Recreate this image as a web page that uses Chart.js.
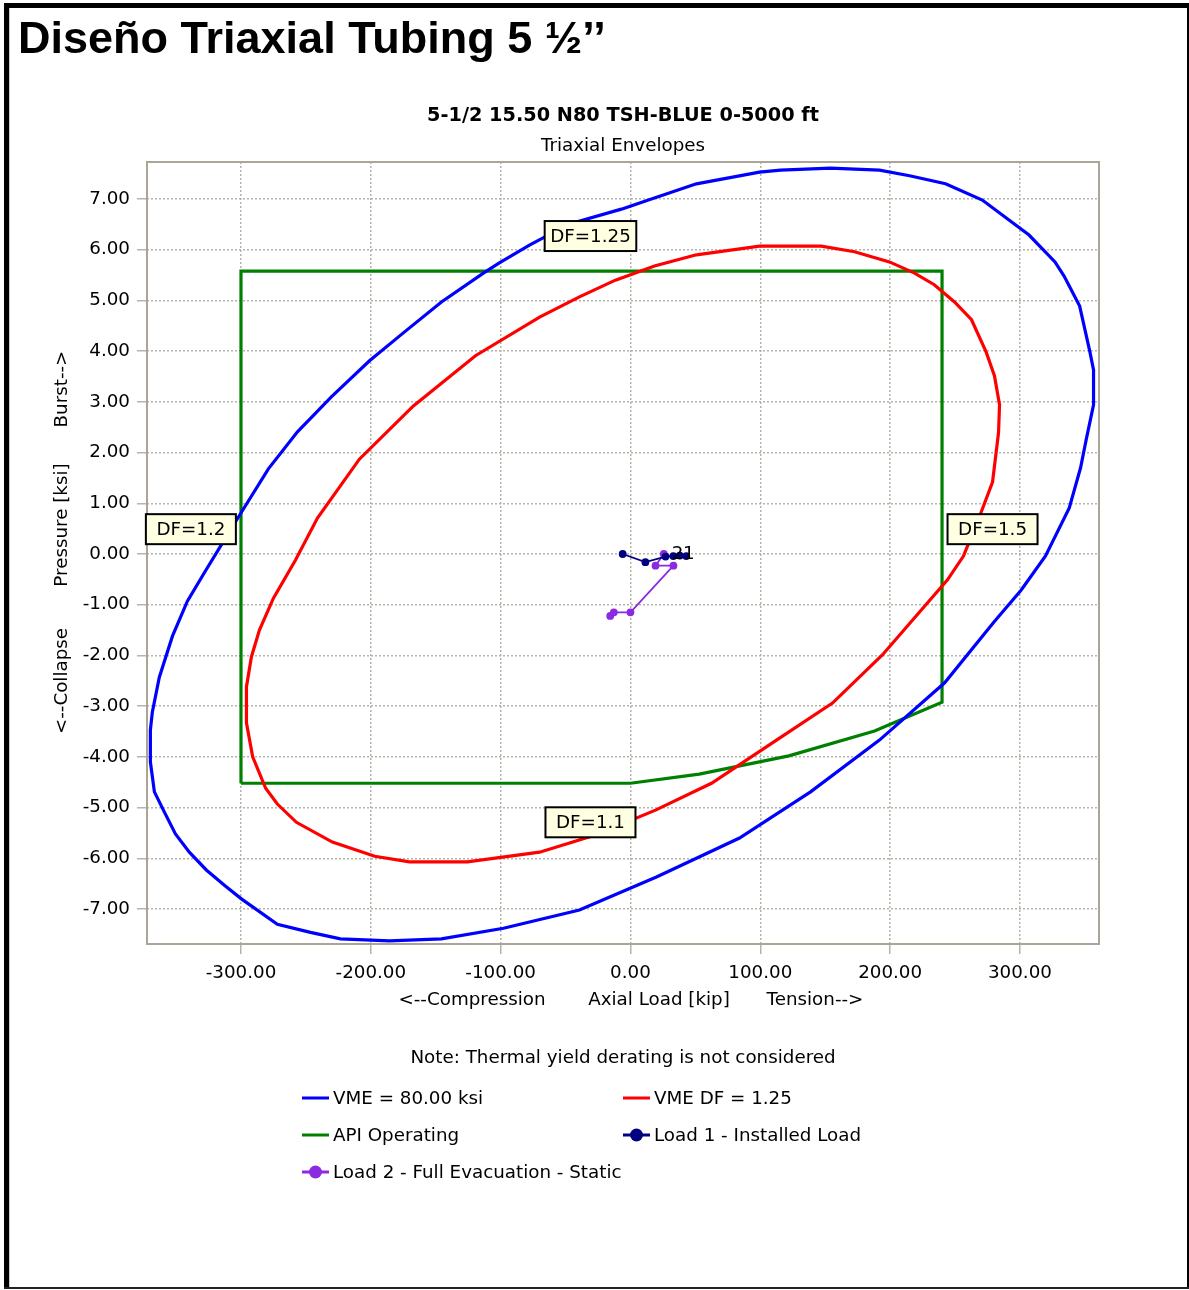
<!DOCTYPE html>
<html><head><meta charset="utf-8">
<script src="https://cdn.jsdelivr.net/npm/chart.js@4/dist/chart.umd.min.js"></script>
<style>html,body{margin:0;padding:0;background:#fff;}canvas{display:block;}</style>
</head><body>
<canvas id="c" width="1189" height="1290"></canvas>
<script>
// ---------- DATA ----------
const vmeEnvelope = [[-7,6.80],[11.6,6.96],[50.8,7.30],[99.4,7.53],[115.6,7.57],[154,7.61],[191.8,7.57],[215,7.46],[242.7,7.30],[271,6.98],[307,6.29],[327,5.76],[334,5.48],[346,4.89],[353.6,4.02],[356.7,3.63],[356.7,2.94],[351,2.25],[346.7,1.70],[338,0.91],[319.7,-0.04],[301,-0.71],[280,-1.34],[242,-2.54],[191.8,-3.67],[138.7,-4.69],[84,-5.60],[50.8,-6.00],[20,-6.37],[-39.3,-7.02],[-97.8,-7.38],[-145.6,-7.59],[-185.7,-7.63],[-223.4,-7.59],[-246.5,-7.46],[-272,-7.30],[-299.7,-6.80],[-312.8,-6.53],[-326.7,-6.23],[-339.8,-5.88],[-350.5,-5.52],[-359,-5.09],[-366.7,-4.69],[-369.8,-4.10],[-369.8,-3.47],[-368.3,-3.12],[-362.9,-2.43],[-352.8,-1.62],[-341.3,-0.93],[-328,-0.36],[-312.8,0.28],[-301,0.77],[-278.9,1.68],[-256.5,2.41],[-230.4,3.10],[-201,3.81],[-174,4.38],[-145.6,4.97],[-113.3,5.54],[-101,5.74],[-77.8,6.09],[-47,6.51],[-7,6.80]];
const vmeDfEnvelope = [[50.8,5.90],[99.4,6.07],[147,6.07],[172.6,5.96],[199.5,5.76],[218.8,5.54],[234,5.31],[249.6,4.97],[262.7,4.62],[274,3.98],[280.4,3.51],[284.3,2.94],[283.5,2.39],[278.9,1.42],[269.6,0.79],[256.5,-0.04],[244.2,-0.51],[194,-1.99],[155.6,-2.94],[114.8,-3.63],[62.4,-4.52],[19.3,-5.05],[-27,-5.54],[-70,-5.88],[-125.6,-6.07],[-170.3,-6.07],[-197,-5.96],[-229.6,-5.68],[-257.3,-5.29],[-272,-4.93],[-281,-4.62],[-291,-4.00],[-295.8,-3.33],[-295.8,-2.62],[-292,-2.03],[-285.8,-1.50],[-275,-0.87],[-258,-0.12],[-241.1,0.71],[-208.8,1.87],[-167.2,2.92],[-119.4,3.91],[-70,4.67],[-39.3,5.07],[-11.6,5.40],[18.5,5.68],[50.8,5.90]];
const apiOperating = [[-300,-4.52],[-300,5.58],[240,5.58],[240,-2.92],[188,-3.49],[122,-3.98],[53,-4.34],[0,-4.52],[-300,-4.52]];
const load1 = [[-6,0],[11.5,-0.16],[27,-0.05],[33,-0.04],[38,-0.03],[43,-0.04]];
const load2 = [[25.7,0],[19.3,-0.23],[33.1,-0.23],[0,-1.15],[-12.8,-1.15],[-15.6,-1.22]];
const seriesLabels = ['VME = 80.00 ksi','VME DF = 1.25','API Operating','Load 1 - Installed Load','Load 2 - Full Evacuation - Static'];
const xTicks = [-300,-200,-100,0,100,200,300];
const yTicks = [-7,-6,-5,-4,-3,-2,-1,0,1,2,3,4,5,6,7];
const dfLabels = ['DF=1.25','DF=1.1','DF=1.2','DF=1.5'];
const dfAnchors = [[-30.8,6.27],[-30.8,-5.29],[-338.6,0.49],[278.9,0.49]];
const loadTags = ['2','1'];
const loadTagAnchors = [[36.2,0],[45.0,0]];

// ---------- STYLE ----------
const FONT = '"DejaVu Sans", Verdana, sans-serif';
const FS = 18.3;
const colors = ['#0000ff','#ff0000','#008000','#000080','#8a2be2'];
const toXY = a => a.map(p => ({x:p[0], y:p[1]}));
const seriesData = [vmeEnvelope, vmeDfEnvelope, apiOperating, load1, load2];

const datasets = seriesData.map((d,i) => ({
  label: seriesLabels[i],
  data: toXY(d),
  showLine: true,
  borderColor: colors[i],
  backgroundColor: colors[i],
  borderWidth: i < 3 ? 3.2 : 1.8,
  pointRadius: i < 3 ? 0 : 3,
  pointHoverRadius: 0,
  tension: 0,
  fill: false
}));

const decor = {
  id: 'decor',
  afterDatasetsDraw(chart) {
    const ctx = chart.ctx, xs = chart.scales.x, ys = chart.scales.y, a = chart.chartArea;
    ctx.save();
    ctx.strokeStyle = '#aaa596'; ctx.lineWidth = 2;
    ctx.strokeRect(a.left, a.top, a.right - a.left, a.bottom - a.top);
    ctx.fillStyle = '#000'; ctx.font = FS + 'px ' + FONT;
    ctx.textAlign = 'center'; ctx.textBaseline = 'middle';
    loadTags.forEach((t,i) => ctx.fillText(t, xs.getPixelForValue(loadTagAnchors[i][0]), ys.getPixelForValue(loadTagAnchors[i][1])));
    dfLabels.forEach((t,i) => {
      const cx = xs.getPixelForValue(dfAnchors[i][0]), cy = ys.getPixelForValue(dfAnchors[i][1]);
      const w = Math.max(ctx.measureText(t).width + 11, 90), h = 30;
      ctx.fillStyle = '#ffffe1';
      ctx.fillRect(cx - w/2, cy - h/2, w, h);
      ctx.strokeStyle = '#000'; ctx.lineWidth = 2;
      ctx.strokeRect(cx - w/2, cy - h/2, w, h);
      ctx.fillStyle = '#000';
      ctx.fillText(t, cx, cy + 1);
    });
    ctx.restore();
  },
  afterDraw(chart) {
    const ctx = chart.ctx, a = chart.chartArea;
    const cx = (a.left + a.right) / 2;
    ctx.save();
    ctx.fillStyle = '#000';
    ctx.fillRect(4, 3, 1185, 5);
    ctx.fillRect(4, 3, 5, 1286);
    ctx.fillRect(1187, 3, 2, 1286);
    ctx.fillStyle = '#222';
    ctx.fillRect(4, 1287, 1185, 2);
    ctx.fillStyle = '#c8c8c8';
    ctx.fillRect(9, 8, 1, 1279);
    ctx.fillStyle = '#000';
    ctx.font = 'bold 45px "Liberation Sans", Arial, sans-serif';
    ctx.textAlign = 'left'; ctx.textBaseline = 'alphabetic';
    ctx.fillText('Diseño Triaxial Tubing 5 ½’’', 18, 53);
    ctx.textAlign = 'center'; ctx.textBaseline = 'middle';
    ctx.font = 'bold 19.3px ' + FONT;
    ctx.fillText('5-1/2 15.50 N80 TSH-BLUE 0-5000 ft', cx, 116);
    ctx.font = FS + 'px ' + FONT;
    ctx.fillText('Triaxial Envelopes', cx, 146);
    ctx.fillText('<--Compression', 472, 1000);
    ctx.fillText('Axial Load [kip]', 659, 1000);
    ctx.fillText('Tension-->', 815, 1000);
    [['<--Collapse',681],['Pressure [ksi]',525],['Burst-->',389]].forEach(([t,y]) => {
      ctx.save(); ctx.translate(62, y); ctx.rotate(-Math.PI/2);
      ctx.fillText(t, 0, 0); ctx.restore();
    });
    ctx.fillText('Note: Thermal yield derating is not considered', cx, 1058);
    const colX = [302, 623], rowY = [1098, 1135, 1172];
    ctx.textAlign = 'left';
    chart.data.datasets.forEach((ds, i) => {
      const x = colX[i % 2], y = rowY[Math.floor(i / 2)];
      ctx.strokeStyle = ds.borderColor; ctx.lineWidth = 3;
      ctx.beginPath(); ctx.moveTo(x, y); ctx.lineTo(x + 27, y); ctx.stroke();
      if (ds.pointRadius > 0) {
        ctx.fillStyle = ds.backgroundColor;
        ctx.beginPath(); ctx.arc(x + 13.5, y, 6.5, 0, Math.PI * 2); ctx.fill();
      }
      ctx.fillStyle = '#000';
      ctx.fillText(ds.label, x + 31, y + 1);
    });
    ctx.restore();
  }
};

new Chart(document.getElementById('c'), {
  type: 'scatter',
  data: { datasets },
  plugins: [decor],
  options: {
    responsive: false,
    devicePixelRatio: 1,
    animation: false,
    events: [],
    layout: { padding: { left: 47, top: 162, right: 90, bottom: 266 } },
    plugins: { legend: { display: false }, tooltip: { enabled: false }, title: { display: false } },
    scales: {
      x: {
        type: 'linear', min: -372.4, max: 360.9,
        afterBuildTicks: s => { s.ticks = xTicks.map(v => ({ value: v })); },
        afterFit: s => { s.height = 80; },
        ticks: { color: '#000', font: { family: FONT, size: FS }, padding: 8, maxRotation: 0, autoSkip: false,
                 callback: v => Number(v).toFixed(2) },
        grid: { color: '#b4b4aa', lineWidth: 1.5, tickLength: 10, drawOnChartArea: true },
        border: { display: false, dash: [2, 2] }
      },
      y: {
        type: 'linear', min: -7.69, max: 7.73,
        afterBuildTicks: s => { s.ticks = yTicks.map(v => ({ value: v })); },
        afterFit: s => { s.width = 100; },
        ticks: { color: '#000', font: { family: FONT, size: FS }, padding: 7, autoSkip: false,
                 callback: v => Number(v).toFixed(2) },
        grid: { color: '#b4b4aa', lineWidth: 1.5, tickLength: 10 },
        border: { display: false, dash: [2, 2] }
      }
    }
  }
});
</script>
</body></html>
